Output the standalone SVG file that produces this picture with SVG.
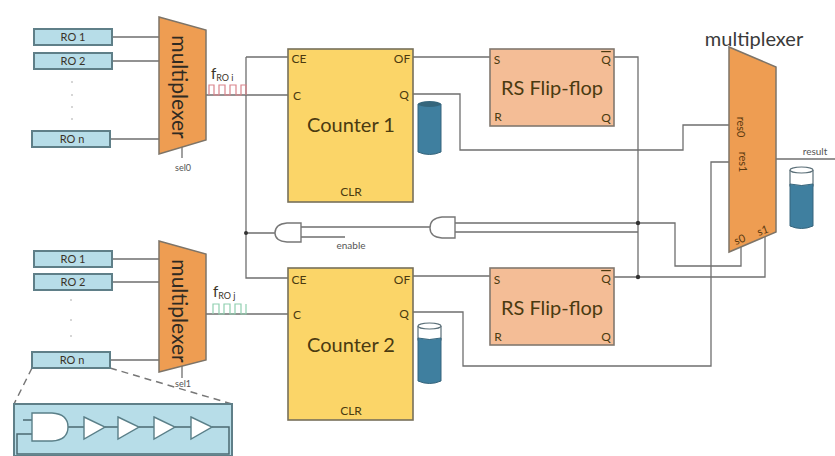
<svg xmlns="http://www.w3.org/2000/svg" width="835" height="456" viewBox="0 0 835 456">
<style>
text{font-family:Lato,"Liberation Sans",sans-serif;fill:#3a3328;text-anchor:middle}
.w{fill:none;stroke:#6f6f6f;stroke-width:1.3}
.ro{fill:#b7dde8;stroke:#5f7f88;stroke-width:2}
.mux{fill:#ee9d52;stroke:#7d7468;stroke-width:1.5}
.ctr{fill:#fbd568;stroke:#77705a;stroke-width:1.6}
.rs{fill:#f4bd96;stroke:#82786f;stroke-width:1.6}
.gate{fill:#fff;stroke:#777;stroke-width:1.4}
.inv{fill:#fff;stroke:#5a7f88;stroke-width:1.4}
.iw{fill:none;stroke:#4c6a72;stroke-width:1.5}
.cyl{fill:#3f7f9f;stroke:#36657c;stroke-width:1}
.cap{fill:#fff;stroke:#5b6f78;stroke-width:1.2}
.dot{fill:#333}
.s{font-size:11px}
.p{font-size:12px;fill:#4a3a10}
.b{font-size:20px;fill:#4a3a10}
.m{font-size:21px;fill:#2f2a22}
.g{font-size:9px;fill:#555}
.vd{fill:#c8c8c8}
.l{font-size:11px;fill:#5a3a10}
</style>
<g id="connectors">
<path class="w" d="M112 37H159M112 61H159M110 139H159M182 146V158M206 95H288M246 57H288M246 57V278H288"/>
<path class="w" d="M112 259H159M112 282H159M110 360H159M182 366V378M206 314H288"/>
<path class="w" d="M413 57H490M413 94H460V150H683V125H729"/>
<path class="w" d="M413 276H490M413 312H463V366H711V162H729"/>
<path class="w" d="M614 57H638V277M614 277H765V232"/>
<path class="w" d="M455 223H675V266H741V247M455 232H638"/>
<path class="w" d="M246 233H275M301 227H430M301 237H345"/>
<path class="w" d="M776 159H835"/>
<path fill="none" stroke="#d9848c" stroke-width="1.2" d="M209 95V85H214V95H219V85H225V95H230V85H236V95H241V85H246V95"/>
<path fill="none" stroke="#8fcfb0" stroke-width="1.2" d="M213 314V304H219V314H224V304H230V314H235V304H241V314H246V304"/>
<path fill="none" stroke="#777" stroke-width="1.5" stroke-dasharray="7 5" d="M32 368L14 404M110 368L232 404"/>
<circle class="dot" cx="246" cy="233" r="2"/><circle class="dot" cx="638" cy="223" r="2.2"/><circle class="dot" cx="638" cy="277" r="2.2"/>
</g>
<g id="ro-1-1"><rect class="ro" x="34" y="29" width="78" height="16"/><text class="s" x="73" y="41">RO 1</text></g>
<g id="ro-1-2"><rect class="ro" x="34" y="53" width="78" height="16"/><text class="s" x="73" y="65">RO 2</text></g>
<g id="ro-1-n"><rect class="ro" x="32" y="131" width="78" height="16"/><text class="s" x="72" y="143">RO n</text></g>
<g id="dots-1"><circle class="vd" cx="72" cy="82" r="1"/><circle class="vd" cx="72" cy="95" r="1"/><circle class="vd" cx="72" cy="107" r="1"/><circle class="vd" cx="72" cy="119" r="1"/></g>
<g id="ro-2-1"><rect class="ro" x="34" y="251" width="78" height="16"/><text class="s" x="73" y="263">RO 1</text></g>
<g id="ro-2-2"><rect class="ro" x="34" y="274" width="78" height="16"/><text class="s" x="73" y="286">RO 2</text></g>
<g id="ro-2-n"><rect class="ro" x="32" y="352" width="78" height="16"/><text class="s" x="72" y="364">RO n</text></g>
<g id="dots-2"><circle class="vd" cx="71" cy="300" r="1"/><circle class="vd" cx="71" cy="320" r="1"/><circle class="vd" cx="71" cy="336" r="1"/></g>
<g id="mux-1"><polygon class="mux" points="159,17 206,30 206,140 159,154"/><text class="m" transform="translate(172,87) rotate(90)">multiplexer</text><text class="g" x="183" y="171">sel0</text></g>
<g id="mux-2"><polygon class="mux" points="159,241 206,254 206,360 159,372"/><text class="m" transform="translate(172,311) rotate(90)">multiplexer</text><text class="g" x="183" y="387">sel1</text></g>
<g id="label-i"><text x="211" y="79" font-size="15" style="text-anchor:start">f<tspan font-size="9" dy="2">RO i</tspan></text></g>
<g id="label-j"><text x="213" y="297" font-size="15" style="text-anchor:start">f<tspan font-size="9" dy="2">RO j</tspan></text></g>
<g id="counter-1"><rect class="ctr" x="288" y="49" width="125" height="153"/><text class="p" x="299" y="63">CE</text><text class="p" x="293" y="100" style="text-anchor:start">C</text><text class="p" x="402" y="63">OF</text><text class="p" x="404" y="99">Q</text><text class="b" x="351" y="132">Counter 1</text><text class="p" x="351" y="196">CLR</text></g>
<g id="counter-2"><rect class="ctr" x="288" y="268" width="125" height="152"/><text class="p" x="299" y="284">CE</text><text class="p" x="293" y="319" style="text-anchor:start">C</text><text class="p" x="402" y="284">OF</text><text class="p" x="404" y="318">Q</text><text class="b" x="351" y="352">Counter 2</text><text class="p" x="351" y="415">CLR</text></g>
<g id="rs-1"><rect class="rs" x="490" y="49" width="124" height="77"/><text class="p" x="497" y="64">S</text><text class="p" x="498" y="121">R</text><text class="p" x="606" y="64" text-decoration="overline">Q</text><text class="p" x="606" y="122">Q</text><text class="b" x="552" y="95">RS Flip-flop</text></g>
<g id="rs-2"><rect class="rs" x="490" y="268" width="124" height="77"/><text class="p" x="497" y="284">S</text><text class="p" x="498" y="341">R</text><text class="p" x="606" y="283" text-decoration="overline">Q</text><text class="p" x="606" y="341">Q</text><text class="b" x="552" y="315">RS Flip-flop</text></g>
<g id="cyl-1"><path class="cyl" d="M418 104V152Q429.500 157 441 152V104Z"/><ellipse cx="429.500" cy="104" rx="11.500" ry="3" fill="#35667c"/></g>
<g id="cyl-2"><path class="cap" d="M418 326V340H441V326"/><path class="cyl" d="M418 338Q429.500 341 441 338V381Q429.500 386 418 381Z"/><ellipse class="cap" cx="429.500" cy="326" rx="11.500" ry="3"/></g>
<g id="cyl-3"><path class="cap" d="M790 170V186H813V170"/><path class="cyl" d="M790 184Q801.500 187 813 184V226Q801.500 231 790 226Z"/><ellipse class="cap" cx="801.500" cy="170" rx="11.500" ry="3"/></g>
<g id="gate-1"><path class="gate" d="M301 223H287Q275 224 275 233Q275 241 287 242H301Z"/></g>
<g id="gate-2"><path class="gate" d="M455 217H442Q430 218 430 228Q430 237 442 238H455Z"/></g>
<text class="g" x="351" y="249" style="font-size:10px">enable</text>
<g id="mux-3"><polygon class="mux" points="729,47 776,67 776,232 729,252"/><text x="754" y="46" font-size="20" style="fill:#3a3a3a">multiplexer</text><text class="l" transform="translate(737,127) rotate(90)">res0</text><text class="l" transform="translate(739,162) rotate(90)">res1</text><text class="l" transform="translate(741,243) rotate(-20)">s0</text><text class="l" transform="translate(764,234) rotate(-20)">s1</text></g>
<text class="g" x="815" y="155" style="font-size:10px">result</text>
<g id="ro-inset"><rect class="ro" x="14" y="404" width="218" height="52"/>
<path class="iw" d="M23 420H32M32 434H17V454H229V427H212M68 427H84M105 427H118M139 427H154M175 427H191"/>
<path class="inv" d="M32 413H52Q68 414 68 427Q68 440 52 441H32Z"/>
<polygon class="inv" points="84,417 105,427 84,439"/><polygon class="inv" points="118,417 139,427 118,439"/><polygon class="inv" points="154,417 175,427 154,439"/><polygon class="inv" points="191,417 212,427 191,439"/></g>
</svg>
